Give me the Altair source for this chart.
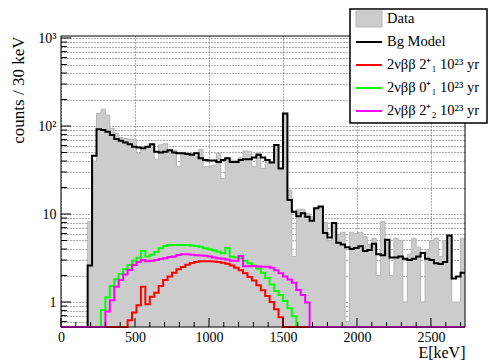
import altair as alt
import pandas as pd

# ---------------- data (30 keV bins, 0 - 2730 keV) ----------------
BIN_W = 30
N_BINS = 91

data_counts = [
    0, 0, 0, 0, 0, 0, 8.2, 40, 139, 155,
    133, 94, 83, 74, 72, 71, 71, 49, 56, 58,
    60, 42, 61, 63, 53, 53, 34.5, 48, 47, 49,
    45, 54, 34.5, 34.5, 36, 49, 25.4, 44, 41, 40.5,
    44, 52, 51, 34.5, 49, 33, 39, 39, 58, 33,
    135, 18.5, 3.3, 11.3, 11.3, 10.2, 9.3, 11.4, 12.0, 8.0,
    5.0, 8.0, 5.8, 6.2, 0.6, 6.2, 6.0, 6.2, 5.5, 4.5,
    5.3, 2.0, 8.2, 5.0, 2.0, 5.3, 5.0, 1.0, 3.5, 5.3,
    4.2, 1.0, 3.8, 5.0, 5.3, 3.3, 5.0, 5.5, 1.0, 1.0,
    5.3,
]

bg_model = [
    0, 0, 0, 0, 0, 0, 2.6, 46, 92, 90,
    86, 79, 71, 68, 65, 62, 58, 57, 56, 58,
    62, 51, 50, 51, 53, 50, 49, 49, 48, 47,
    49, 43, 41, 40.5, 40.5, 39, 41, 43, 39, 39,
    41, 42, 42, 44, 47, 44, 41, 38.5, 61, 33,
    139, 14.4, 10.6, 9.4, 10.2, 9.3, 8.4, 11.6, 12.2, 6.1,
    5.4, 7.9, 4.7, 4.5, 4.2, 4.0, 4.1, 4.3, 3.8, 3.9,
    4.6, 3.5, 3.4, 5.1, 3.2, 3.2, 3.3, 3.1, 3.0, 3.1,
    3.3, 3.6, 3.1, 3.0, 2.75, 2.7, 2.85, 5.7, 1.85, 1.95,
    2.15,
]

# 2vbb to 2+_1 (red)
sig_2p1 = [
    0, 0, 0, 0, 0, 0, 0, 0, 0, 0,
    0, 0, 0, 0, 0, 0.62, 0.76, 0.92, 1.49, 0.94,
    1.15, 1.27, 1.52, 1.78, 1.95, 2.15, 2.35, 2.5, 2.65, 2.78,
    2.85, 2.9, 2.9, 2.9, 2.88, 2.85, 2.8, 2.72, 2.6, 2.45,
    2.3, 2.12, 1.93, 1.75, 1.55, 1.36, 1.17, 1.0, 0.83, 0.67,
] + [0] * 41

# 2vbb to 0+_1 (green)
sig_0p1 = [
    0, 0, 0, 0, 0, 0, 0, 0, 0, 0.81,
    1.13, 1.52, 1.81, 2.08, 2.35, 2.63, 2.95, 3.18, 3.8, 3.3,
    3.45, 3.7, 4.07, 4.33, 4.44, 4.44, 4.44, 4.44, 4.44, 4.4,
    4.33, 4.25, 4.07, 3.97, 3.85, 3.73, 3.57, 4.07, 3.27, 3.2,
    3.14, 2.95, 2.75, 2.58, 2.38, 2.15, 1.88, 1.58, 1.33, 1.2,
    1.03, 0.85, 0.69,
] + [0] * 38

# 2vbb to 2+_2 (magenta)
sig_2p2 = [
    0, 0, 0, 0, 0, 0, 0, 0, 0, 0,
    0.78, 1.05, 1.49, 1.78, 2.06, 2.31, 2.63, 2.84, 3.0, 2.9,
    2.95, 3.0, 3.08, 3.15, 3.25, 3.3, 3.42, 3.48, 3.48, 3.45,
    3.4, 3.37, 3.35, 3.3, 3.2, 3.14, 3.1, 3.05, 2.95, 2.95,
    3.33, 2.55, 2.55, 2.56, 2.54, 2.52, 2.52, 2.45, 2.3, 2.12,
    1.95, 1.8, 1.65, 1.37, 1.2, 0.99,
] + [0] * 35

x_major = [0, 500, 1000, 1500, 2000, 2500]
x_minor = [e for e in range(0, 2701, 100) if e % 500 != 0]
y_major = [1, 10, 100, 1000]
y_minor = [m * d for d in (0.1, 1, 10, 100) for m in range(2, 10) if 0.52 < m * d < 1000]

legend_labels = ["Data", "Bg Model", "2νββ 2⁺₁ 10²³ yr", "2νββ 0⁺₁ 10²³ yr", "2νββ 2⁺₂ 10²³ yr"]
legend_colors = ["#cccccc", "#000000", "#ff0000", "#00ff00", "#ff00ff"]

# ---------------- helpers ----------------
W, H = 404, 291
Y_MIN, Y_MAX = 0.52, 1054
E_MAX = BIN_W * N_BINS
edges = [i * BIN_W for i in range(N_BINS + 1)]
SERIF = "Liberation Serif"


def step_df(vals):
    v = list(vals) + [vals[-1]]
    return pd.DataFrame({"E": edges, "c": [max(x, 1e-3) for x in v], "base": Y_MIN})


xs = alt.Scale(domain=[0, E_MAX], nice=False, zero=False)
ys = alt.Scale(type="log", domain=[Y_MIN, Y_MAX], nice=False, clamp=True)

xaxis = alt.Axis(
    values=x_major, title="E[keV]", titleAnchor="end", titleFont=SERIF, titleFontSize=16,
    titleFontWeight="normal", titleColor="black", titlePadding=0,
    labelFont=SERIF, labelFontSize=14, labelColor="black", labelPadding=3,
    labelFlush=False, labelOverlap=False, ticks=False, domain=False, format="d",
    grid=True, gridColor="#555555", gridDash=[1, 2], gridWidth=1,
)
yaxis = alt.Axis(
    values=sorted(y_minor + y_major), title="counts / 30 keV", titleAnchor="end",
    titleFont=SERIF, titleFontSize=17, titleFontWeight="normal", titleColor="black",
    titlePadding=10, labelFont=SERIF, labelFontSize=14, labelColor="black", labelPadding=5,
    labelOverlap=False, labelBound=False, ticks=False, domain=False,
    labelExpr="datum.value == 1000 ? '10³' : datum.value == 100 ? '10²' : datum.value == 10 ? '10' : datum.value == 1 ? '1' : ''",
    grid=True, gridColor="#555555", gridDash=[1, 2], gridWidth=1,
)


def X(field="E"):
    return alt.X(f"{field}:Q", scale=xs, axis=xaxis)


def Y(field="c"):
    return alt.Y(f"{field}:Q", scale=ys, axis=yaxis)


layers = []
ddf = step_df(data_counts)
layers.append(alt.Chart(ddf).mark_area(interpolate="step-after", color="#cccccc").encode(
    x=X(), y=Y(), y2="base:Q"))
layers.append(alt.Chart(ddf).mark_line(interpolate="step-after", color="#b5b5b5", strokeWidth=1).encode(
    x=X(), y=Y()))
for vals, col in [(bg_model, "#000000"), (sig_0p1, "#00ff00"), (sig_2p1, "#ff0000"), (sig_2p2, "#ff00ff")]:
    layers.append(alt.Chart(step_df(vals)).mark_line(interpolate="step-after", color=col, strokeWidth=2).encode(
        x=X(), y=Y()))

# inward ticks
for vals, ln in [(x_major, 9), (x_minor, 5)]:
    layers.append(alt.Chart(pd.DataFrame({"t": vals})).mark_rule(color="black", strokeWidth=1).encode(
        x=X("t"), y=alt.value(H), y2=alt.value(H - ln)))
for vals, ln in [(y_major, 10), (y_minor, 6)]:
    layers.append(alt.Chart(pd.DataFrame({"t": vals})).mark_rule(color="black", strokeWidth=1).encode(
        y=Y("t"), x=alt.value(0), x2=alt.value(ln)))

one = pd.DataFrame({"k": [0]})
# frame
layers.append(alt.Chart(one).mark_rect(fillOpacity=0, stroke="black", strokeWidth=1).encode(
    x=alt.value(0), x2=alt.value(W), y=alt.value(0), y2=alt.value(H)))

# legend
LX0, LX1, LY0, LY1 = 289, 426, -27, 87
layers.append(alt.Chart(one).mark_rect(fill="white", stroke="black", strokeWidth=1.5).encode(
    x=alt.value(LX0), x2=alt.value(LX1), y=alt.value(LY0), y2=alt.value(LY1)))
rows = [-17, 6, 29, 52, 75]
for i, (lab, col) in enumerate(zip(legend_labels, legend_colors)):
    ry = rows[i]
    if i == 0:
        layers.append(alt.Chart(one).mark_rect(fill=col, stroke="#b5b5b5", strokeWidth=1).encode(
            x=alt.value(295), x2=alt.value(321), y=alt.value(ry - 8), y2=alt.value(ry + 8)))
    else:
        layers.append(alt.Chart(one).mark_rule(color=col, strokeWidth=2).encode(
            x=alt.value(295), x2=alt.value(321), y=alt.value(ry)))
    layers.append(alt.Chart(one).mark_text(text=lab, align="left", baseline="middle", font=SERIF,
                                           fontSize=14.5, color="black").encode(
        x=alt.value(326), y=alt.value(ry)))

chart = alt.layer(*layers).properties(
    width=W, height=H,
    autosize=alt.AutoSizeParams(type="none"),
    padding={"left": 53, "top": 28, "right": 23, "bottom": 36},
).configure_view(stroke=None)

chart.save("out.html", embed_options={"renderer": "svg", "actions": False})
